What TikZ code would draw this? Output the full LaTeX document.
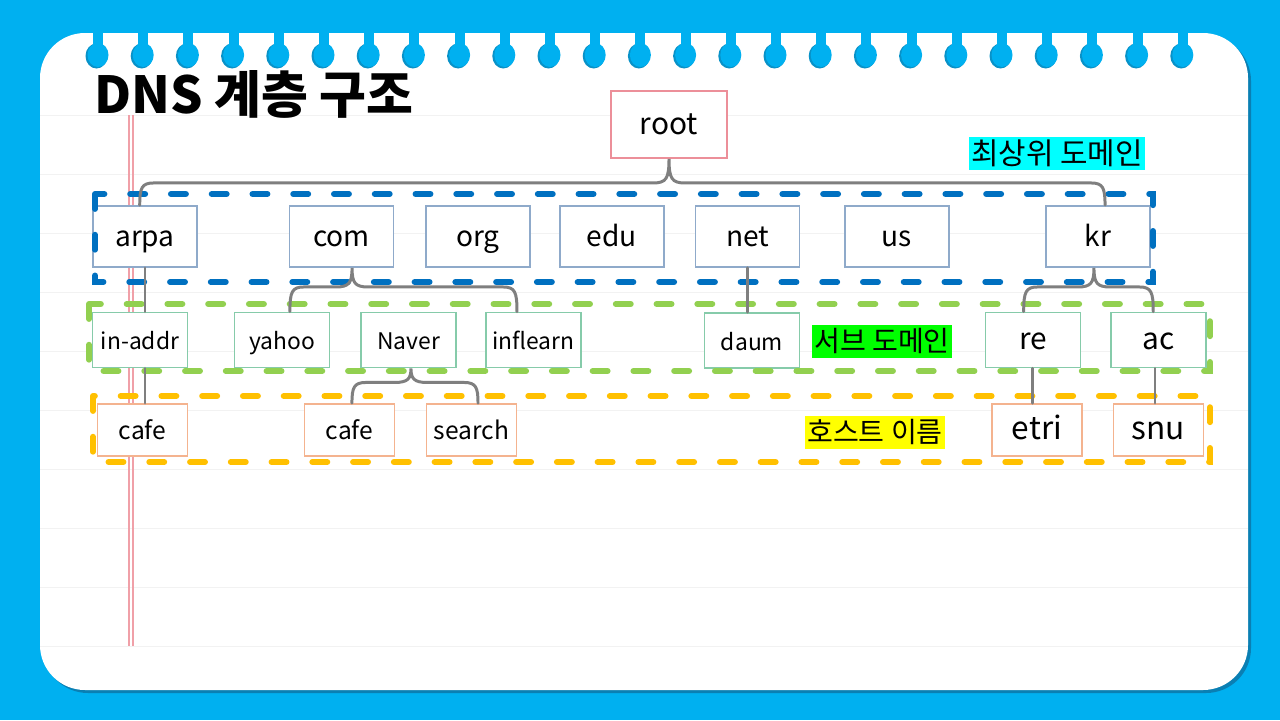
\documentclass[tikz,border=0pt]{standalone}
\usepackage{fontspec}
\setmainfont{Noto Sans CJK KR}
\usetikzlibrary{calc}

\definecolor{sky}{HTML}{00B0F0}
\definecolor{skydark}{HTML}{0A7FB3}
\definecolor{holeshade}{HTML}{0892C8}
\definecolor{ruleline}{HTML}{F2F2F2}
\definecolor{marginred}{HTML}{F0A0A8}
\definecolor{rootline}{HTML}{EC8F99}
\definecolor{tldline}{HTML}{8FAACA}
\definecolor{subline}{HTML}{86CBAA}
\definecolor{hostline}{HTML}{F4B38F}
\definecolor{tldframe}{HTML}{0070C0}
\definecolor{subframe}{HTML}{92D050}
\definecolor{hostframe}{HTML}{FFC000}
\definecolor{linkgray}{HTML}{7F7F7F}
\definecolor{tagcyan}{RGB}{0,255,255}
\definecolor{taggreen}{RGB}{0,255,0}
\definecolor{tagyellow}{RGB}{255,255,0}

\tikzset{
  box/.style={draw, line width=1.1pt, fill=white, inner sep=0pt, text height=1.25em, text depth=0.15em},
  rootbox/.style={box, draw=rootline, minimum width=2.32cm, minimum height=1.34cm, font=\fontsize{17}{19}\selectfont},
  tld/.style={box, draw=tldline, minimum width=2.08cm, minimum height=1.22cm, font=\fontsize{16}{18}\selectfont},
  sub/.style={box, draw=subline, minimum width=1.9cm, minimum height=1.1cm, font=\fontsize{13}{15}\selectfont},
  host/.style={box, draw=hostline, minimum width=1.8cm, minimum height=1.04cm, font=\fontsize{14}{16}\selectfont},
  frame/.style={line width=3.4pt, line cap=round, dash pattern=on 8.5pt off 14.7pt},
  link/.style={draw=linkgray, line width=1.7pt, line cap=round},
  tag/.style={inner xsep=1pt, inner ysep=0pt, minimum height=0.66cm},
}

% brace from #1 over tip #2 to #3, bar #4 px below the tip
\newcommand{\treebrace}[4]{%
  \draw[link] (#1)
    .. controls ($(#1 |- #2)+(0,#4+5)$) and ($(#1 |- #2)+(2,#4)$) .. ($(#1 |- #2)+(14,#4)$)
    -- ($(#2)+(-16,#4)$)
    .. controls ($(#2)+(-3,#4)$) and ($(#2)+(0,#4-4)$) .. (#2)
    .. controls ($(#2)+(0,#4-4)$) and ($(#2)+(3,#4)$) .. ($(#2)+(16,#4)$)
    -- ($(#3 |- #2)+(-14,#4)$)
    .. controls ($(#3 |- #2)+(-2,#4)$) and ($(#3 |- #2)+(0,#4+5)$) .. (#3);}

\begin{document}
\begin{tikzpicture}[x=0.02cm, y=-0.02cm]
\useasboundingbox (0,0) rectangle (1280,720);
% notebook page
\fill[sky] (0,0) rectangle (1280,720);
\fill[skydark, rounded corners=0.9cm] (43,36) rectangle (1251,693);
\fill[white, rounded corners=0.9cm] (40,33) rectangle (1248,690);
\foreach \y in {115,174,...,646} \draw[ruleline, line width=0.4pt] (40,\y) -- (1248,\y);
\draw[marginred, line width=0.6pt] (129,115) -- (129,646) (133,115) -- (133,646);
\foreach \i in {0,...,24} {
  \fill[holeshade] ({96.5+45.2*\i},56) ellipse [x radius=11, y radius=12.5];
  \fill[sky] ({98+45.2*\i},55) ellipse [x radius=10.5, y radius=12];
  \fill[sky] ({93+45.2*\i},30) rectangle ++(10,16);
}
\node[anchor=base west, font=\fontsize{29}{31}\selectfont\bfseries] (title) at (88,113) {DNS 계층 구조};

% nodes
\node[rootbox] (root) at (669,124.5) {root};
\foreach \name/\x in {arpa/145, com/341.5, org/478, edu/612, net/747.5, us/897, kr/1098}
  \node[tld] (\name) at (\x,236.5) {\name};
\node[sub] (inaddr) at (140,340) {in-addr};
\node[sub] (yahoo) at (282,340) {yahoo};
\node[sub] (naver) at (408.5,340) {Naver};
\node[sub] (inflearn) at (533.5,340) {inflearn};
\node[sub] (daum) at (752,340.5) {daum};
\node[sub, font=\fontsize{17}{19}\selectfont] (re) at (1033,340) {re};
\node[sub, font=\fontsize{17}{19}\selectfont] (ac) at (1158.5,340) {ac};
\node[host] (cafeA) at (142.5,430) {cafe};
\node[host] (cafeB) at (349.5,430) {cafe};
\node[host] (search) at (471.5,430) {search};
\node[host, font=\fontsize{18}{20}\selectfont] (etri) at (1037,430) {etri};
\node[host, font=\fontsize{18}{20}\selectfont] (snu) at (1158.5,430) {snu};

% level frames
\draw[frame, tldframe] (95,194) rectangle (1153,282);
\draw[frame, subframe] (89,304) rectangle (1210,371);
\draw[frame, hostframe] (93,396) rectangle (1210,462);

\node[tag, fill=tagcyan, font=\fontsize{17}{19}\selectfont] (toplabel) at (1057,153.5) {최상위 도메인};
\node[tag, fill=taggreen, font=\fontsize{16}{18}\selectfont] (sublabel) at (882,341) {서브 도메인};
\node[tag, fill=tagyellow, font=\fontsize{16}{18}\selectfont] (hostlabel) at (875,432) {호스트 이름};

% connectors
\coordinate (rootL) at ([xshift=-3pt]arpa.north);
\coordinate (rootR) at ([xshift=4pt]kr.north);
\treebrace{rootL}{root.south}{rootR}{24}
\coordinate (comtip) at ([xshift=6pt]com.south);
\coordinate (comL) at ([xshift=4.5pt]yahoo.north);
\coordinate (comR) at ([xshift=-9.4pt]inflearn.north);
\treebrace{comL}{comtip}{comR}{19}
\coordinate (navertip) at ([xshift=1.4pt]naver.south);
\coordinate (naverL) at ([xshift=1.4pt]cafeB.north);
\coordinate (naverR) at ([xshift=3.7pt]search.north);
\treebrace{naverL}{navertip}{naverR}{14}
\coordinate (krtip) at ([xshift=-2.3pt]kr.south);
\coordinate (krL) at ([xshift=-5.3pt]re.north);
\coordinate (krR) at ([xshift=-3pt]ac.north);
\treebrace{krL}{krtip}{krR}{19}
\draw[link] (arpa.south) -- (arpa.south |- inaddr.north);
\draw[link] (arpa.south |- inaddr.south) -- (arpa.south |- cafeA.north);
\draw[link] (net.south) -- (net.south |- daum.north);
\draw[link] ([xshift=-0.5pt]re.south) -- ([xshift=-0.5pt]re.south |- etri.north);
\draw[link] ([xshift=-2pt]ac.south) -- ([xshift=-2pt]ac.south |- snu.north);
\end{tikzpicture}
\end{document}
